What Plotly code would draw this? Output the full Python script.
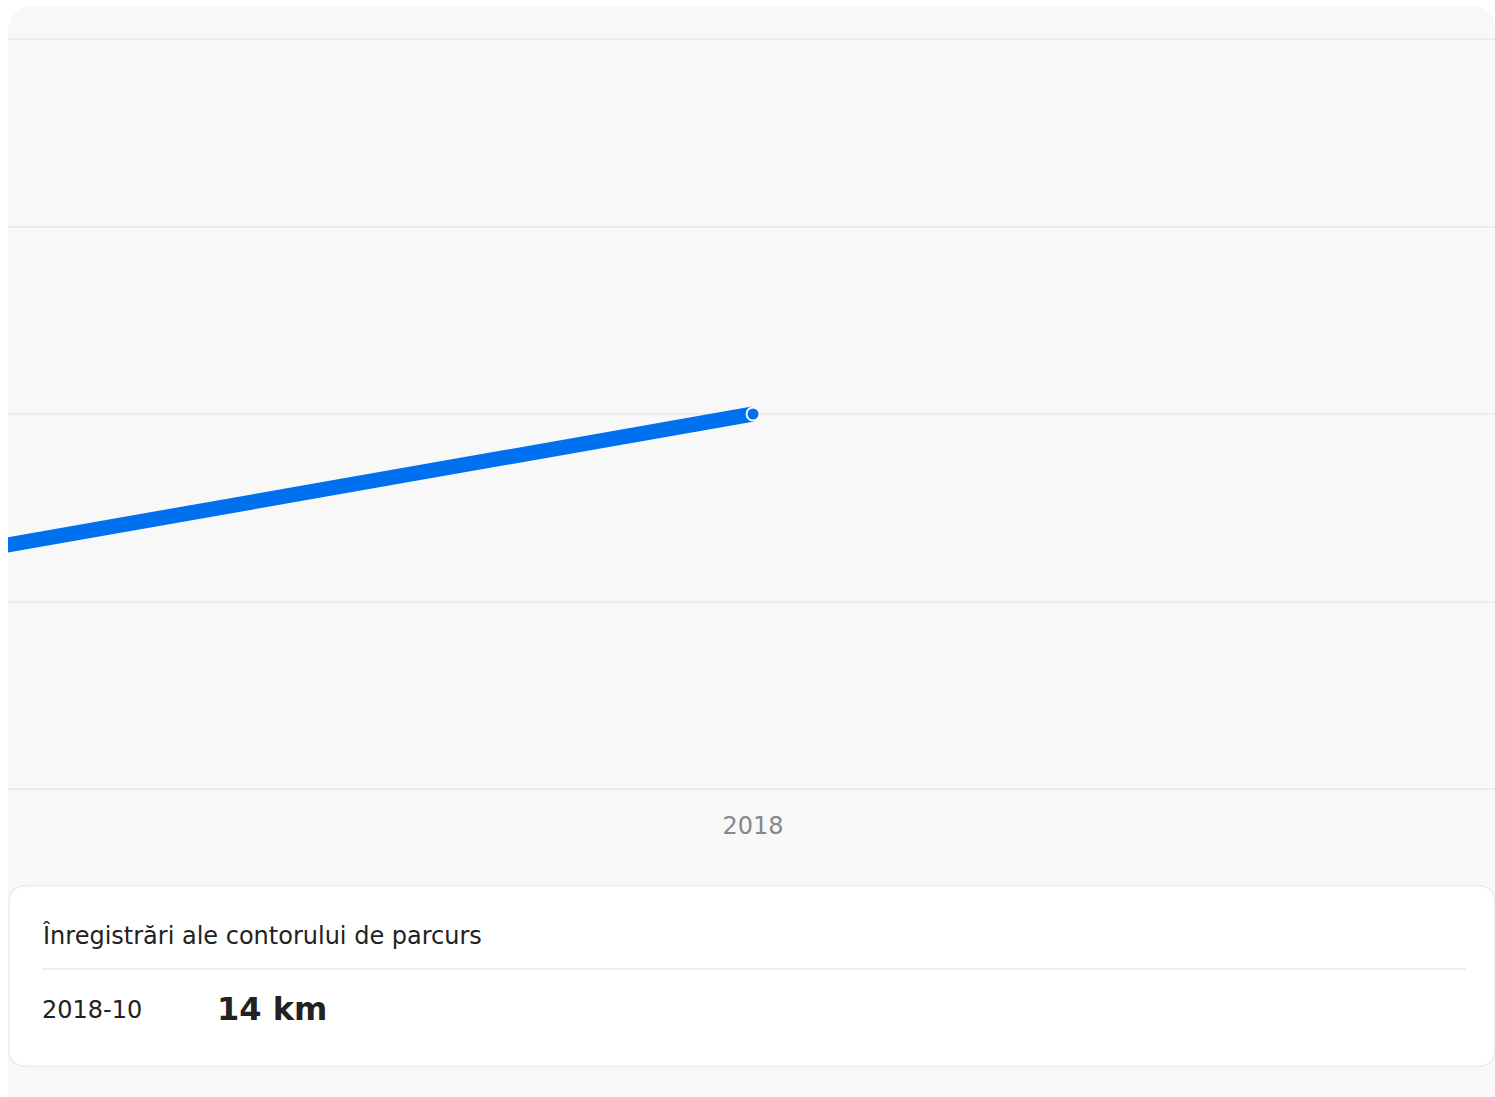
import plotly.graph_objects as go

# ---- data ----
dates = ["2018-07-07", "2018-10-01"]
odometer_km = [0, 14]
tick_vals = ["2018-10-01"]
tick_text = ["2018"]
x_range = ["2018-09-01", "2018-10-30 21:00"]
y_range = [-0.112, 28.112]
y_step = 7
panel_title = "Înregistrări ale contorului de parcurs"
row_date = "2018-10"
row_value = "14 km"

W, H = 1495, 1097
BLUE = "#0071ee"
FONT = "DejaVu Sans"


def px(x):  # page pixel -> paper
    return x / W


def py(y):
    return 1 - y / H


def rounded_rect(x0, y0, x1, y1, r):
    rx, ry = r / W, r / H
    X0, X1 = px(x0), px(x1)
    Y0, Y1 = py(y0), py(y1)  # Y0 top (larger), Y1 bottom
    return (
        f"M {X0+rx},{Y0} L {X1-rx},{Y0} Q {X1},{Y0} {X1},{Y0-ry} "
        f"L {X1},{Y1+ry} Q {X1},{Y1} {X1-rx},{Y1} "
        f"L {X0+rx},{Y1} Q {X0},{Y1} {X0},{Y1+ry} "
        f"L {X0},{Y0-ry} Q {X0},{Y0} {X0+rx},{Y0} Z"
    )


fig = go.Figure()
fig.add_trace(
    go.Scatter(
        x=dates,
        y=odometer_km,
        mode="lines+markers",
        line=dict(color=BLUE, width=15),
        marker=dict(size=13, color=BLUE, line=dict(color="white", width=2)),
        hoverinfo="skip",
        showlegend=False,
    )
)

shapes = [
    # grey card
    dict(type="path", xref="paper", yref="paper", layer="below",
         path=rounded_rect(8, 6, 1496, 1140, 28),
         fillcolor="#f8f8f8", line=dict(width=0)),
    # white info box
    dict(type="path", xref="paper", yref="paper", layer="below",
         path=rounded_rect(9, 886, 1495, 1066, 16),
         fillcolor="#ffffff", line=dict(color="#ebebeb", width=1.5)),
    # divider
    dict(type="line", xref="paper", yref="paper", layer="below",
         x0=px(42), x1=px(1466), y0=py(969), y1=py(969),
         line=dict(color="#ededed", width=2)),
]

annotations = [
    dict(text=panel_title, xref="paper", yref="paper", x=px(40), y=py(935),
         xanchor="left", yanchor="middle", showarrow=False,
         font=dict(family=FONT, size=24, color="#222222")),
    dict(text=row_date, xref="paper", yref="paper", x=px(40), y=py(1010),
         xanchor="left", yanchor="middle", showarrow=False,
         font=dict(family=FONT, size=24, color="#222222")),
    dict(text=f"<b>{row_value}</b>", xref="paper", yref="paper", x=px(215), y=py(1009),
         xanchor="left", yanchor="middle", showarrow=False,
         font=dict(family=FONT, size=32, color="#222222")),
]

fig.update_layout(
    width=W, height=H,
    margin=dict(l=0, r=0, t=0, b=0),
    paper_bgcolor="#ffffff",
    plot_bgcolor="rgba(0,0,0,0)",
    font=dict(family=FONT),
    shapes=shapes,
    annotations=annotations,
    xaxis=dict(
        domain=[8 / W, 1], type="date", range=x_range,
        tickvals=tick_vals, ticktext=tick_text,
        showgrid=False, zeroline=False, showline=False, ticks="",
        tickfont=dict(family=FONT, size=24, color="#888888"),
        ticklabelstandoff=17,
        fixedrange=True,
    ),
    yaxis=dict(
        domain=[1 - 792 / H, 1 - 36 / H], range=y_range,
        dtick=y_step, tick0=0,
        showgrid=True, gridcolor="#ececec", gridwidth=2,
        zeroline=False, showline=False, showticklabels=False, ticks="",
        fixedrange=True,
    ),
)

fig.write_html(
    "out.html",
    config={"displayModeBar": False},
    post_script="document.body.style.margin='0';document.body.style.overflow='hidden';",
)
